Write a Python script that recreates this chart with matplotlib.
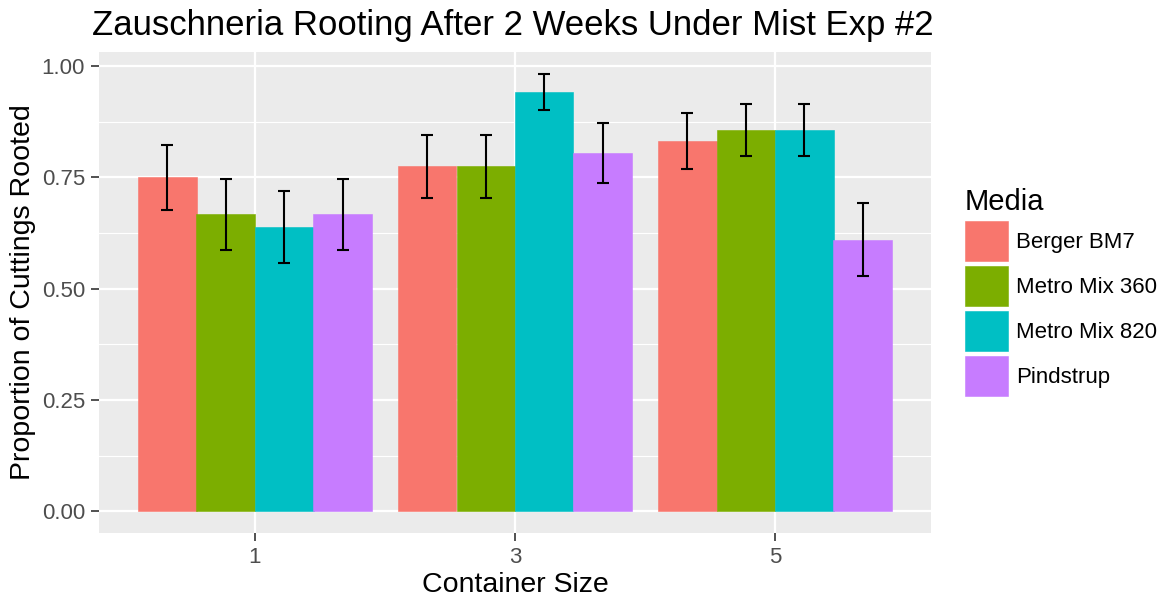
import matplotlib
matplotlib.use("Agg")
import matplotlib.pyplot as plt
import numpy as np

plt.rcParams['font.family'] = ['Liberation Sans', 'DejaVu Sans']

container_sizes = ["1", "3", "5"]
media = ["Berger BM7", "Metro Mix 360", "Metro Mix 820", "Pindstrup"]
colors = ["#F8766D", "#7CAE00", "#00BFC4", "#C77CFF"]

berger = [0.750, 0.775, 0.832]
metro360 = [0.667, 0.775, 0.857]
metro820 = [0.639, 0.942, 0.857]
pindstrup = [0.667, 0.805, 0.610]

berger_se = [0.074, 0.071, 0.063]
metro360_se = [0.080, 0.071, 0.059]
metro820_se = [0.081, 0.040, 0.059]
pindstrup_se = [0.080, 0.067, 0.082]

values = [berger, metro360, metro820, pindstrup]
errors = [berger_se, metro360_se, metro820_se, pindstrup_se]

fig = plt.figure(figsize=(11.65, 6.0), dpi=100)
ax = fig.add_axes([99 / 1165, 1 - 533 / 600, 832 / 1165, 481 / 600])
ax.set_facecolor("#EBEBEB")

x = np.arange(1, len(container_sizes) + 1)
n = len(media)
bw = 0.9 / n
for i, (name, vals, errs, col) in enumerate(zip(media, values, errors, colors)):
    pos = x + (i - (n - 1) / 2) * bw
    ax.bar(pos, vals, width=bw, color=col, edgecolor=col, linewidth=0.4,
           label=name, zorder=3)
    ax.errorbar(pos, vals, yerr=errs, fmt="none", ecolor="black",
                elinewidth=1.5, capsize=4.5, capthick=1.5, zorder=4)

ax.set_xlim(0.4, 3.6)
ax.set_ylim(-0.049, 1.032)
ax.set_xticks(x)
ax.set_xticklabels(container_sizes)
ax.set_yticks([0, 0.25, 0.5, 0.75, 1.0])
ax.set_yticklabels(["0.00", "0.25", "0.50", "0.75", "1.00"])
ax.set_yticks([0.125, 0.375, 0.625, 0.875], minor=True)

ax.grid(True, which="major", color="white", linewidth=1.6, zorder=0)
ax.grid(True, which="minor", axis="y", color="white", linewidth=0.8, zorder=0)
ax.set_axisbelow(True)
for s in ax.spines.values():
    s.set_visible(False)

ax.tick_params(axis="both", which="major", colors="#333333", labelcolor="#4D4D4D",
               labelsize=16, length=6, width=1.2, pad=4)
ax.tick_params(axis="both", which="minor", length=0)

ax.set_xlabel("Container Size", fontsize=20.5, color="black", labelpad=3)
ax.set_ylabel("Proportion of Cuttings Rooted", fontsize=20.5, color="black", labelpad=4)

fig.text(92 / 1165, 1 - 25 / 600, "Zauschneria Rooting After 2 Weeks Under Mist Exp #2",
         fontsize=25, ha="left", va="center", color="black")

leg = fig.legend(*ax.get_legend_handles_labels(), title="Media", loc="upper left",
                 bbox_to_anchor=(965 / 1165, 1 - 188 / 600),
                 frameon=False, fontsize=16, title_fontsize=21,
                 handlelength=1.94, handleheight=2.39, handletextpad=0.36,
                 labelspacing=0.225, borderaxespad=0, borderpad=0)
leg._legend_box.align = "left"

fig.savefig("out.png", dpi=100, facecolor="white")
